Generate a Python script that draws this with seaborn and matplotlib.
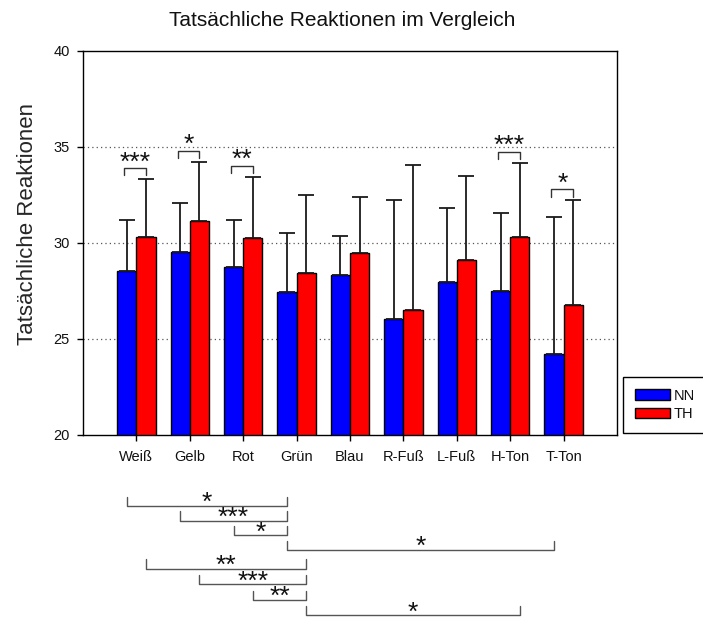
import numpy as np
import pandas as pd
import matplotlib
matplotlib.use("Agg")
import matplotlib.pyplot as plt
import matplotlib.transforms as mtransforms
from matplotlib.patches import Patch
import seaborn as sns

# ---- data -------------------------------------------------------------
categories = ["Weiß", "Gelb", "Rot", "Grün", "Blau", "R-Fuß", "L-Fuß", "H-Ton", "T-Ton"]
groups = ["NN", "TH"]

nn_mean = [28.55, 29.53, 28.77, 27.43, 28.35, 26.06, 27.97, 27.50, 24.22]
nn_sd = [2.66, 2.55, 2.44, 3.10, 2.03, 6.16, 3.84, 4.05, 7.13]
th_mean = [30.33, 31.16, 30.26, 28.45, 29.48, 26.49, 29.13, 30.33, 26.77]
th_sd = [2.99, 3.06, 3.18, 4.03, 2.90, 7.57, 4.34, 3.85, 5.45]

# NN vs TH within a category
pair_sig = {"Weiß": "***", "Gelb": "*", "Rot": "**", "H-Ton": "***", "T-Ton": "*"}

# comparisons between categories inside one group
nn_comparisons = [("Weiß", "Grün", "*"), ("Gelb", "Grün", "***"),
                  ("Rot", "Grün", "*"), ("Grün", "T-Ton", "*")]
th_comparisons = [("Weiß", "Grün", "**"), ("Gelb", "Grün", "***"),
                  ("Rot", "Grün", "**"), ("Grün", "H-Ton", "*")]

title = "Tatsächliche Reaktionen im Vergleich"
ylabel = "Tatsächliche Reaktionen"
colors = {"NN": "#0000FF", "TH": "#FF0000"}

# ---- style ------------------------------------------------------------
sns.set_style("white")
plt.rcParams["font.family"] = ["Liberation Sans", "DejaVu Sans"]
plt.rcParams["text.color"] = "#111111"

df = pd.DataFrame({
    "Kategorie": categories * 2,
    "Gruppe": ["NN"] * len(categories) + ["TH"] * len(categories),
    "Wert": nn_mean + th_mean,
})
sd_lookup = {"NN": nn_sd, "TH": th_sd}

fig = plt.figure(figsize=(7.03, 6.26), dpi=100)
ax = fig.add_axes([83 / 703, 1 - 435 / 626, 534 / 703, 384 / 626])

sns.barplot(data=df, x="Kategorie", y="Wert", hue="Gruppe", order=categories,
            hue_order=groups, palette=colors, width=0.72, errorbar=None,
            saturation=1, edgecolor="black", linewidth=1.0, legend=False,
            zorder=2, ax=ax)

ax.set_xlim(-1, len(categories))
ax.set_ylim(20, 40)
ax.set_yticks([20, 25, 30, 35, 40])

# bar centres and tops taken from the drawn bars
centers, tops = {}, {}
for g, cont in zip(groups, ax.containers):
    xs = [r.get_x() + r.get_width() / 2 for r in cont]
    hs = [r.get_height() for r in cont]
    centers[g] = xs
    ax.errorbar(xs, hs, yerr=[np.zeros(len(hs)), sd_lookup[g]], fmt="none",
                ecolor="#1a1a1a", elinewidth=1.3, capsize=6, capthick=1.3,
                zorder=3)
    tops[g] = [h + s for h, s in zip(hs, sd_lookup[g])]

# dotted reference lines
for yv in [25, 30, 35]:
    ax.axhline(yv, color="#555555", lw=0.9, ls=(0, (1, 2.5)), zorder=1)

for s in ax.spines.values():
    s.set_visible(True)
    s.set_color("black")
    s.set_linewidth(1.0)

ax.tick_params(axis="both", which="both", direction="out", length=4.5, width=1,
               color="black", labelsize=10.5, labelcolor="#111111")
ax.tick_params(axis="y", pad=5)
ax.tick_params(axis="x", pad=6)
ax.tick_params(left=True, bottom=True, top=False, right=False)
ax.set_xlabel("")
ax.set_ylabel(ylabel, fontsize=16)
ax.yaxis.set_label_coords(-0.085, 0.55)

fig.text(342 / 703, 1 - 20 / 626, title, fontsize=15, ha="center", va="center")

star_kw = dict(fontsize=19, ha="center", va="center", clip_on=False,
               family=["Liberation Sans", "DejaVu Sans"])

# NN vs TH brackets above each pair
for cat, lab in pair_sig.items():
    i = categories.index(cat)
    x0 = centers["NN"][i] - 0.05
    x1 = centers["TH"][i]
    base = max(tops["NN"][i], tops["TH"][i]) + 0.2
    top = base + 0.37
    ax.plot([x0, x0, x1, x1], [base, top, top, base], color="#333333",
            lw=1.0, zorder=4)
    ax.text((x0 + x1) / 2, top + 0.3, lab, **star_kw)

# between-category brackets under the axis
trans = mtransforms.blended_transform_factory(ax.transData, ax.transAxes)
leg_h = 0.024
for g, comps, y_start, step in [("NN", nn_comparisons, -0.185, 0.038),
                                ("TH", th_comparisons, -0.348, 0.0405)]:
    for k, (a, b, lab) in enumerate(comps):
        y = y_start - step * k
        xa = centers[g][categories.index(a)]
        xb = centers[g][categories.index(b)]
        ax.plot([xa, xa, xb, xb], [y + leg_h, y, y, y + leg_h],
                color="#555555", lw=1.0, transform=trans, clip_on=False)
        ax.text((xa + xb) / 2, y + 0.007, lab, transform=trans, **star_kw)

# legend in the right margin
handles = [Patch(facecolor=colors[g], edgecolor="black", linewidth=1.0) for g in groups]
ax.legend(handles, groups, loc="upper left",
          bbox_to_anchor=(623 / 703, 1 - 377 / 626), bbox_transform=fig.transFigure,
          borderaxespad=0, frameon=True, fancybox=False, edgecolor="black",
          framealpha=1, fontsize=10.5, handlelength=2.4, handleheight=0.7,
          handletextpad=0.3, labelspacing=0.33, borderpad=0.8)
ax.get_legend().get_frame().set_linewidth(1.0)

fig.savefig("out.png", dpi=100)
